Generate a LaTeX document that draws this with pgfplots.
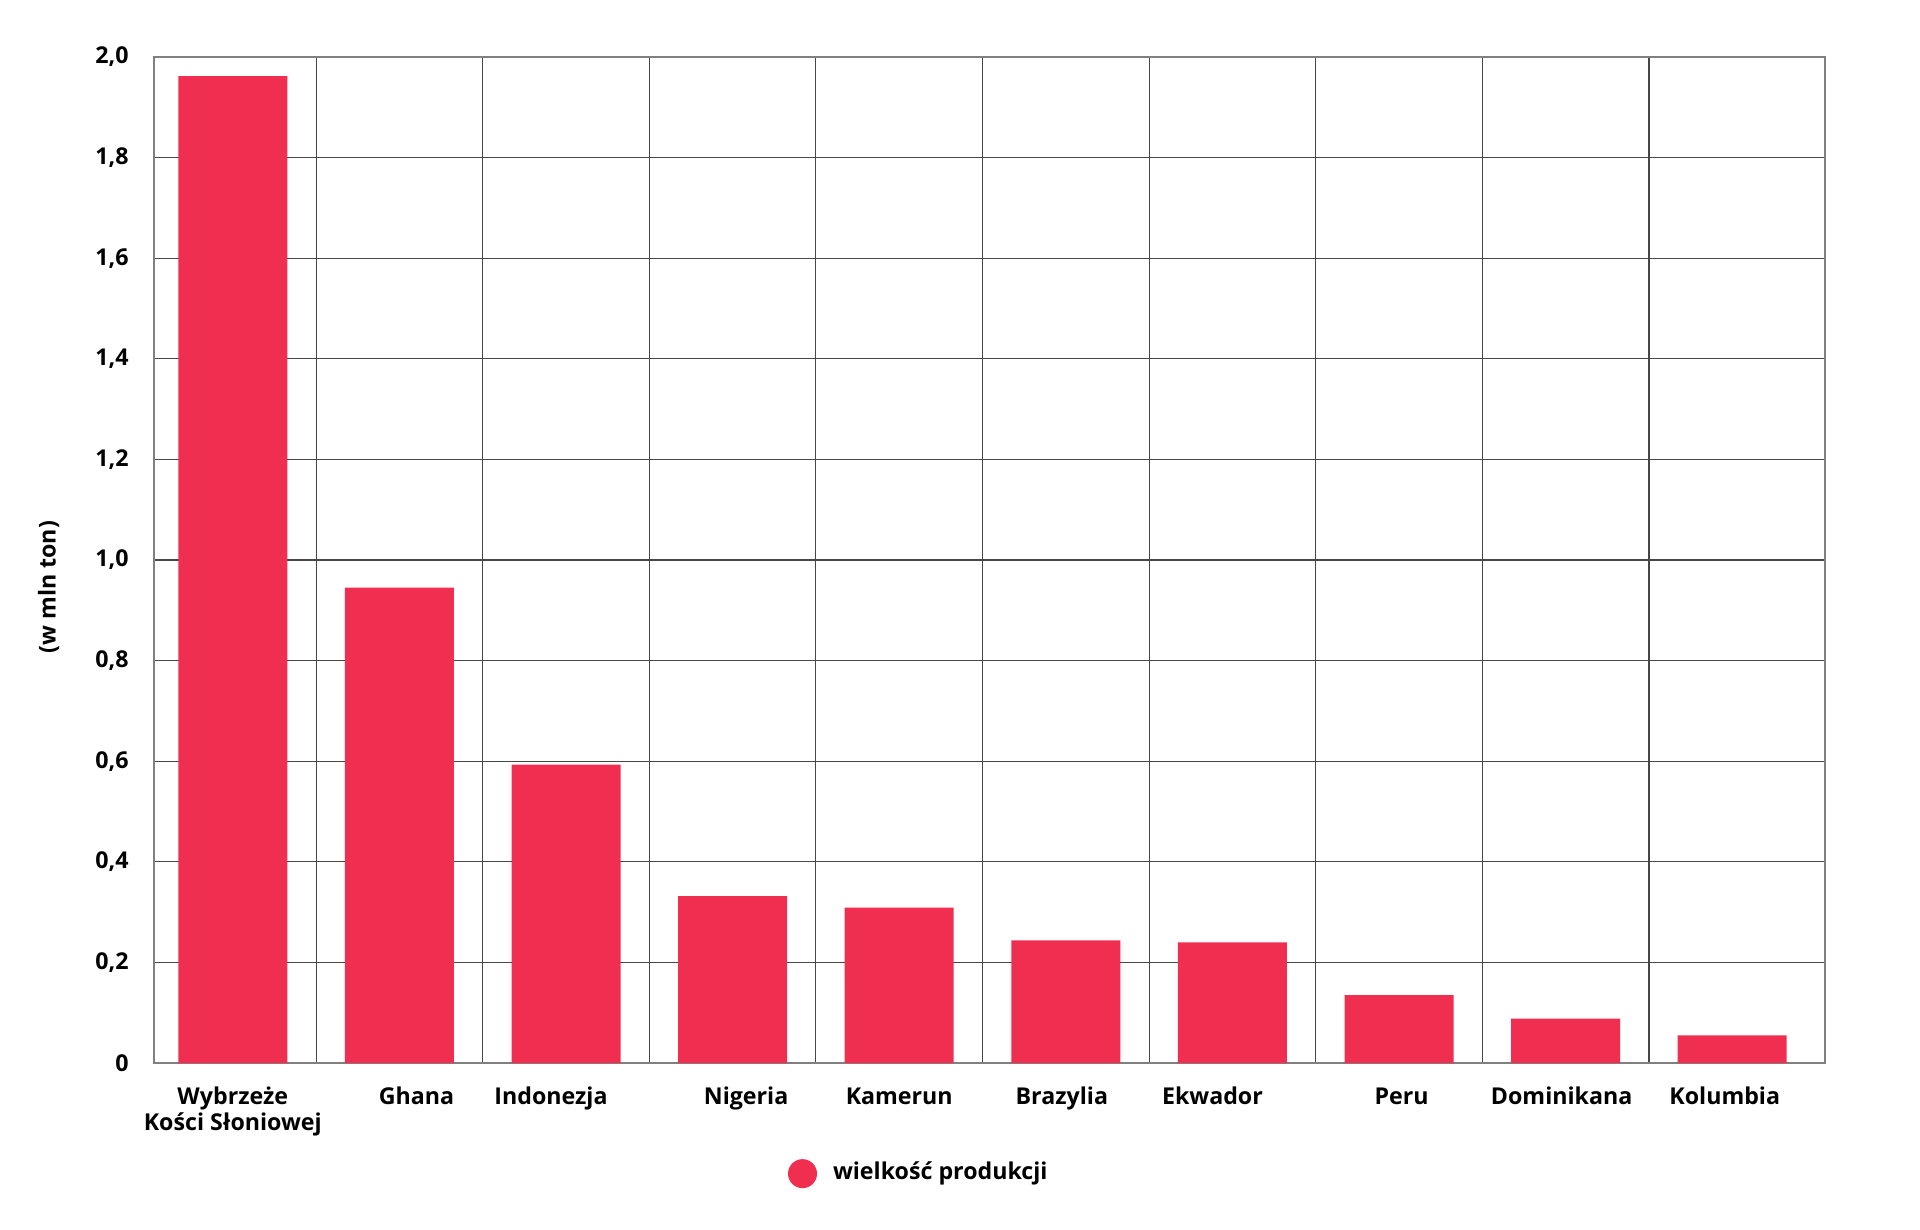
\documentclass[border=0pt]{standalone}
\usepackage{fontspec}
\setmainfont{Open Sans}
\usepackage{pgfplots}
\pgfplotsset{compat=1.18}
\definecolor{barred}{RGB}{239,46,80}
\definecolor{gridgray}{RGB}{70,70,70}
\newcommand{\lbl}{\fontsize{6.6pt}{7.4pt}\selectfont\bfseries}
\begin{document}
\begin{tikzpicture}
\path[use as bounding box] (-15.4mm,-16.7mm) rectangle (176.6mm,106.3mm);
\begin{axis}[
    at={(0,0)}, anchor=south west,
    scale only axis,
    width=167.1mm, height=100.6mm,
    ybar, bar width=10.9mm,
    xmin=-0.473, xmax=9.557,
    ymin=0, ymax=2,
    xtick={0,1,2,3,4,5,6,7,8,9},
    xticklabels={{\begin{tabular}[t]{@{}c@{}}Wybrzeże\\Kości Słoniowej\end{tabular}},
        {\hspace*{3.4mm}Ghana},
        {Indonezja\hspace*{3mm}},
        {\hspace*{2.7mm}Nigeria},
        Kamerun,
        {Brazylia\hspace*{0.8mm}},
        {Ekwador\hspace*{4mm}},
        {\hspace*{0.5mm}Peru},
        {Dominikana\hspace*{0.8mm}},
        {Kolumbia\hspace*{1.5mm}}},
    minor xtick={0.5,1.5,2.5,3.5,4.5,5.5,6.5,7.5,8.5},
    ytick={0,0.2,0.4,0.6,0.8,1.0,1.2,1.4,1.6,1.8,2.0},
    yticklabels={0,{0,2},{0,4},{0,6},{0,8},{1,0},{1,2},{1,4},{1,6},{1,8},{2,0}},
    major tick length=0, minor tick length=0,
    xminorgrids=true, ymajorgrids=true,
    grid style={gridgray, line width=0.32pt},
    minor grid style={gridgray, line width=0.32pt},
    axis line style={black!50, line width=0.5pt},
    tick label style={font=\lbl},
    xticklabel style={anchor=base, yshift=-4.1mm},
    yticklabel style={xshift=-1.3mm},
    ylabel={(w mln ton)},
    ylabel style={font=\lbl, at={(axis description cs:-0.063,0.473)}, anchor=center},
    legend style={draw=none, at={(0.379,-0.11)}, anchor=west, inner sep=0pt, font=\lbl,
        column sep=0.9mm},
    legend image code/.code={\fill[barred] (1.45mm,0mm) circle (1.45mm);},
]
\addplot[fill=barred, draw=none] coordinates {
    (0,1.962) (1,0.945) (2,0.593) (3,0.332) (4,0.309)
    (5,0.244) (6,0.240) (7,0.135) (8,0.088) (9,0.055)};
\addlegendentry{wielkość produkcji}
\end{axis}
\end{tikzpicture}
\end{document}
